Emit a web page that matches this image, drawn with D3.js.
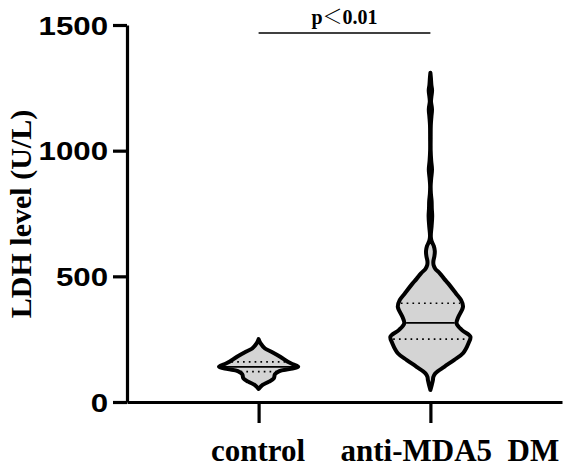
<!DOCTYPE html>
<html>
<head>
<meta charset="utf-8">
<script src="https://cdn.jsdelivr.net/npm/d3@7"></script>
<style>
  body { margin: 0; background: #fff; }
  svg { display: block; }
</style>
</head>
<body>
<div id="chart"></div>
<script>
// data
const categories = ["control", "anti-MDA5  DM"]
const yTicks = [0, 500, 1000, 1500]
const yLabel = "LDH level (U/L)"
const pLabel = "p"
const pSign = "＜"
const pValue = "0.01"

// violin outlines: LDH value and relative density (100 = widest)
const controlLevels = [250, 233, 213, 200, 180, 160, 150, 140, 131, 123, 111, 94, 81, 68, 52]
const controlDensity = [0, 5, 16, 32, 54, 73, 86, 99, 77, 52, 41, 38, 26, 10, 0]
const antiLevels = [1310, 1290, 1260, 1240, 1215, 1195, 1165, 1135, 1100, 1050, 1000, 960, 925, 890, 860,
  830, 800, 770, 740, 700, 670, 655, 640, 620, 600, 580, 560, 545, 530, 512, 490, 472, 432, 406, 379,
  339, 313, 286, 260, 233, 194, 167, 140, 114, 100, 87, 70, 48]
const antiDensity = [0, 1.2, 2.5, 4.2, 2.5, 1.5, 4, 2.5, 1, 0.7, 0.7, 2, 4, 2, 0.7,
  1.2, 3, 3.5, 4.5, 3, 1.2, 1.2, 3, 8.6, 11, 10, 7.4, 7.9, 12.3, 23.5, 34.6, 44.4, 64, 76.5, 81.5,
  70, 65.4, 79, 100, 95, 81.5, 59, 34.6, 12.3, 7.4, 6.2, 3.7, 0]
// quartiles: [Q1, median, Q3]
const controlQuartiles = [121, 140, 160]
const antiQuartiles = [250, 315, 393]

const groups = [
  { key: categories[0], levels: controlLevels, density: controlDensity, q: controlQuartiles },
  { key: categories[1], levels: antiLevels, density: antiDensity, q: antiQuartiles }
]

const W = 566, H = 467
const svg = d3.select("#chart").append("svg")
  .attr("width", W)
  .attr("height", H)
  .style("font-family", "'Liberation Serif', 'Times New Roman', serif")

// scales
const y = d3.scaleLinear().domain([0, 1500]).range([402, 25])
const x = d3.scalePoint().domain(categories).range([127, 562]).padding(0.766)
const w = d3.scaleLinear().domain([0, 100]).range([0, 40])

// violins
const area = d3.area()
  .y(d => y(d.v))
  .x0(d => d.cx - w(d.d))
  .x1(d => d.cx + w(d.d))
  .curve(d3.curveCatmullRom.alpha(0.5))

groups.forEach(g => {
  const cx = x(g.key)
  const pts = g.levels.map((v, i) => ({ v: v, d: g.density[i], cx: cx }))
  svg.append("path")
    .datum(pts)
    .attr("d", area)
    .attr("fill", "#d4d4d4")
    .attr("stroke", "#000")
    .attr("stroke-width", 4)
    .attr("stroke-linejoin", "round")

  // half width at a value, for the quartile lines
  const hw = d3.scaleLinear().domain(g.levels).range(g.density.map(d => w(d)))
  g.q.forEach((v, i) => {
    const half = hw(v) - 2
    svg.append("line")
      .attr("x1", cx - half)
      .attr("x2", cx + half)
      .attr("y1", y(v))
      .attr("y2", y(v))
      .attr("stroke", "#000")
      .attr("stroke-width", 1.7)
      .attr("stroke-dasharray", i === 1 ? null : "1.7 4.1")
  })
})

// y axis
const yAxis = svg.append("g")
  .attr("transform", "translate(127,0)")
  .call(d3.axisLeft(y).tickValues(yTicks).tickFormat(d3.format("d")).tickSize(14).tickSizeOuter(0))
yAxis.select(".domain").attr("stroke-width", 3.2)
yAxis.selectAll(".tick line").attr("stroke-width", 3.2)
yAxis.selectAll(".tick text")
  .attr("x", -15.2)
  .attr("dy", "0.36em")
  .attr("transform", "scale(1.25,1)")
  .style("font-family", "'Liberation Sans', Arial, sans-serif")
  .style("font-weight", "bold")
  .style("font-size", "25px")
  .attr("fill", "#000")

// x axis
const xAxis = svg.append("g")
  .attr("transform", "translate(0,402)")
  .call(d3.axisBottom(x).tickSize(21).tickSizeOuter(0))
xAxis.select(".domain").attr("stroke-width", 3.2)
xAxis.selectAll(".tick line").attr("stroke-width", 3.2)
xAxis.selectAll(".tick text")
  .attr("y", 59)
  .attr("dy", 0)
  .attr("dx", (d, i) => i === 1 ? 19 : -1)
  .style("white-space", "pre")
  .style("font-family", "'Liberation Serif', 'Times New Roman', serif")
  .style("font-weight", "bold")
  .style("font-size", "31px")
  .attr("fill", "#000")

// y label
svg.append("text")
  .attr("transform", "translate(31,214) rotate(-90)")
  .attr("text-anchor", "middle")
  .style("font-weight", "bold")
  .style("font-size", "30px")
  .text(yLabel)

// significance bar
svg.append("line")
  .attr("x1", x(categories[0]))
  .attr("x2", x(categories[1]))
  .attr("y1", 33)
  .attr("y2", 33)
  .attr("stroke", "#000")
  .attr("stroke-width", 1.5)

const pt = svg.append("text")
  .attr("x", (x(categories[0]) + x(categories[1])) / 2)
  .attr("y", 24)
  .attr("text-anchor", "middle")
  .style("font-weight", "bold")
  .style("font-size", "20px")
pt.append("tspan").text(pLabel)
pt.append("tspan")
  .style("font-family", "'Noto Sans CJK SC', sans-serif").style("font-weight", 300).text(pSign)
pt.append("tspan").text(pValue)
</script>
</body>
</html>
